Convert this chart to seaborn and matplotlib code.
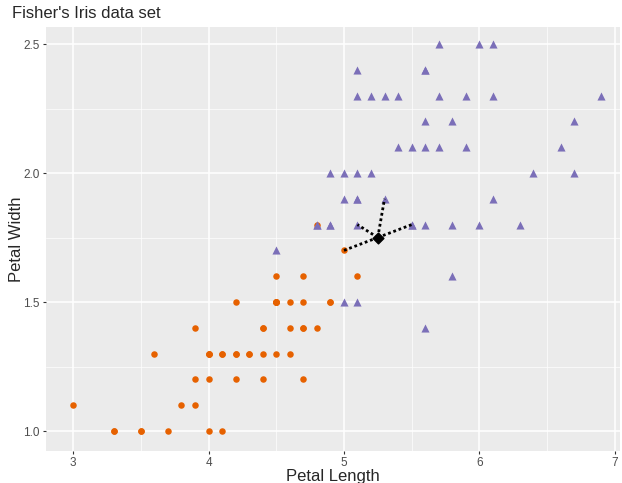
import matplotlib
matplotlib.use("Agg")
import matplotlib.pyplot as plt
import seaborn as sns
import pandas as pd

versicolor_len = [4.7,4.5,4.9,4.0,4.6,4.5,4.7,3.3,4.6,3.9,3.5,4.2,4.0,4.7,3.6,4.4,4.5,4.1,4.5,3.9,
                  4.8,4.0,4.9,4.7,4.3,4.4,4.8,5.0,4.5,3.5,3.8,3.7,3.9,5.1,4.5,4.5,4.7,4.4,4.1,4.0,
                  4.4,4.6,4.0,3.3,4.2,4.2,4.2,4.3,3.0,4.1]
versicolor_wid = [1.4,1.5,1.5,1.3,1.5,1.3,1.6,1.0,1.3,1.4,1.0,1.5,1.0,1.4,1.3,1.4,1.5,1.0,1.5,1.1,
                  1.8,1.3,1.5,1.2,1.3,1.4,1.4,1.7,1.5,1.0,1.1,1.0,1.2,1.6,1.5,1.6,1.5,1.3,1.3,1.3,
                  1.2,1.4,1.2,1.0,1.3,1.2,1.3,1.3,1.1,1.3]
virginica_len = [6.0,5.1,5.9,5.6,5.8,6.6,4.5,6.3,5.8,6.1,5.1,5.3,5.5,5.0,5.1,5.3,5.5,6.7,6.9,5.0,
                 5.7,4.9,6.7,4.9,5.7,6.0,4.8,4.9,5.6,5.8,6.1,6.4,5.6,5.1,5.6,6.1,5.6,5.5,4.8,5.4,
                 5.6,5.1,5.1,5.9,5.7,5.2,5.0,5.2,5.4,5.1]
virginica_wid = [2.5,1.9,2.1,1.8,2.2,2.1,1.7,1.8,1.8,2.5,2.0,1.9,2.1,2.0,2.4,2.3,1.8,2.2,2.3,1.5,
                 2.3,2.0,2.0,1.8,2.1,1.8,1.8,1.8,2.1,1.6,1.9,2.0,2.2,1.5,1.4,2.3,2.4,1.8,1.8,2.1,
                 2.4,2.3,1.9,2.3,2.5,2.3,1.9,2.0,2.3,1.8]

new_point = (5.25, 1.75)
neighbor_len = [5.0, 5.1, 5.3, 5.5]
neighbor_wid = [1.7, 1.8, 1.9, 1.8]

vers = pd.DataFrame({"Petal Length": versicolor_len, "Petal Width": versicolor_wid})
virg = pd.DataFrame({"Petal Length": virginica_len, "Petal Width": virginica_wid})

sns.set_style("darkgrid", {"axes.facecolor": "#EBEBEB", "grid.color": "white"})
plt.rcParams["font.family"] = ["Liberation Sans", "DejaVu Sans"]

fig = plt.figure(figsize=(6.22, 4.83), dpi=100)
ax = fig.add_axes([0.074, 0.066, 0.923, 0.878])

sns.scatterplot(data=vers, x="Petal Length", y="Petal Width", color="#E66100", marker="o",
                s=22, linewidth=0, ax=ax, zorder=3)
sns.scatterplot(data=virg, x="Petal Length", y="Petal Width", color="#7B6FB8", marker="^",
                s=34, linewidth=0, ax=ax, zorder=3.5)

for lx, ly in zip(neighbor_len, neighbor_wid):
    ax.plot([new_point[0], lx], [new_point[1], ly], color="black", linestyle=(0, (1, 1)),
            linewidth=2, zorder=4)
ax.scatter([new_point[0]], [new_point[1]], marker="D", s=30, color="black", zorder=5)

ax.set_xlim(2.80, 7.04)
ax.set_ylim(0.922, 2.566)
ax.set_xticks([3, 4, 5, 6, 7])
ax.set_xticklabels(["3", "4", "5", "6", "7"])
ax.set_yticks([1.0, 1.5, 2.0, 2.5])
ax.set_yticklabels(["1.0", "1.5", "2.0", "2.5"])
ax.set_xticks([3.5, 4.5, 5.5, 6.5], minor=True)
ax.set_yticks([1.25, 1.75, 2.25], minor=True)
ax.grid(which="major", color="white", linewidth=1.1)
ax.grid(which="minor", color="white", linewidth=0.5)
ax.tick_params(axis="both", which="major", labelsize=8.5, labelcolor="#4D4D4D",
               length=2.5, color="#333333", width=0.8, pad=2, bottom=True, left=True)
ax.tick_params(axis="x", which="major", pad=1.5)
ax.tick_params(which="minor", length=0)
for sp in ax.spines.values():
    sp.set_visible(False)
ax.set_xlabel("Petal Length", fontsize=12)
ax.set_ylabel("Petal Width", fontsize=12)
ax.xaxis.set_label_coords(0.5, -0.041)
ax.yaxis.set_label_coords(-0.038, 0.5)
fig.text(0.019, 0.972, "Fisher's Iris data set", fontsize=12, va="center", ha="left")

fig.savefig("out.png", dpi=100)
